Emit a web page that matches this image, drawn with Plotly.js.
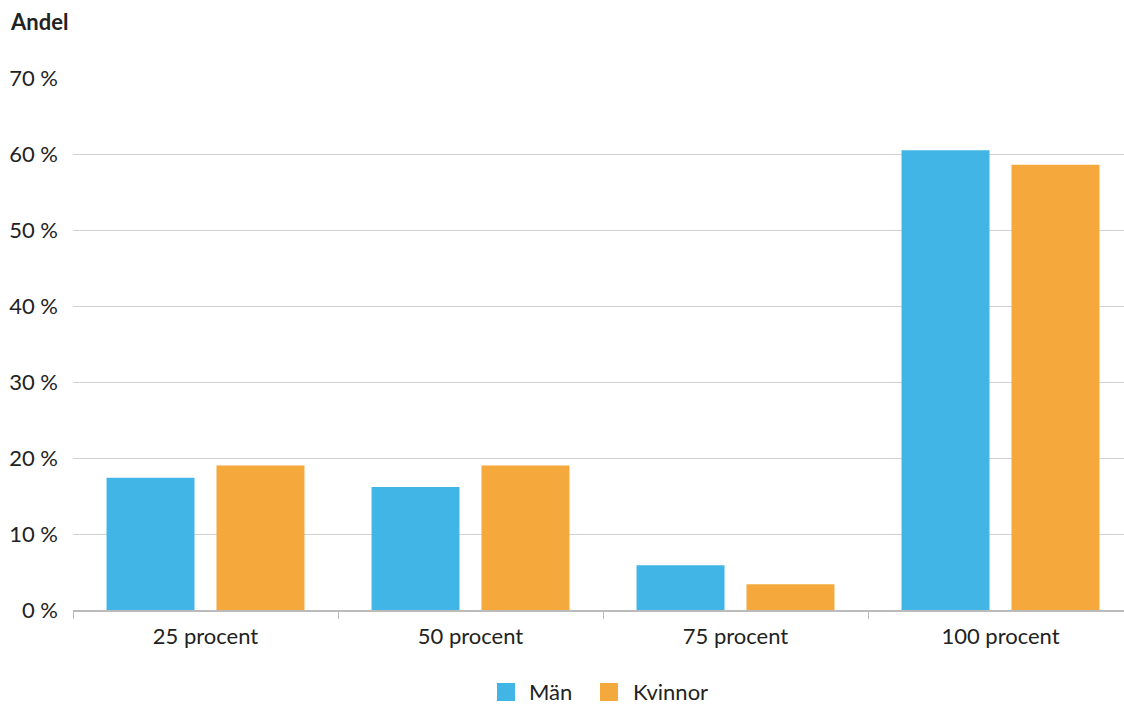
<!DOCTYPE html>
<html>
<head>
<meta charset="utf-8">
<script src="https://cdn.plot.ly/plotly-3.0.1.min.js"></script>
<style>html,body{margin:0;padding:0;background:#fff;overflow:hidden;}#chart{width:1133px;height:706px;}</style>
</head>
<body>
<div id="chart"></div>
<script>
const categories = ["25 procent", "50 procent", "75 procent", "100 procent"];
const seriesNames = ["Män", "Kvinnor"];
const man = [17.4, 16.2, 5.9, 60.5];
const kvinnor = [19.0, 19.0, 3.4, 58.6];
const seriesColors = ["#41B6E6", "#F5A83B"];
const yTicks = [0, 10, 20, 30, 40, 50, 60, 70];
const yTickLabels = yTicks.map(v => v + " %");

const fontFamily = "Lato, 'Open Sans', sans-serif";
const textColor = "#222";

const traces = [
  {type: "bar", name: seriesNames[0], x: categories, y: man, marker: {color: seriesColors[0]}},
  {type: "bar", name: seriesNames[1], x: categories, y: kvinnor, marker: {color: seriesColors[1]}}
];

// custom legend (larger squares than Plotly's default)
const W = 1133, H = 706, L = 73, R = 0, T = 78, B = 96;
const pw = W - L - R, ph = H - T - B;
const px = v => (v - L) / pw;
const py = v => (H - B - v) / ph;
const legendItems = [
  {sq: [497, 515], tx: 527},
  {sq: [600, 618], tx: 631}
];
const shapes = legendItems.map((it, i) => ({
  type: "rect", xref: "paper", yref: "paper",
  x0: px(it.sq[0]), x1: px(it.sq[1]), y0: py(683), y1: py(701),
  fillcolor: seriesColors[i], line: {width: 0}
}));
const legendAnn = legendItems.map((it, i) => ({
  text: seriesNames[i], xref: "paper", yref: "paper",
  x: px(it.tx), y: py(691), xanchor: "left", yanchor: "middle",
  showarrow: false, font: {family: fontFamily, size: 22, color: textColor}
}));

const layout = {
  width: W, height: H,
  margin: {l: L, r: R, t: T, b: B},
  paper_bgcolor: "#fff", plot_bgcolor: "#fff",
  font: {family: fontFamily, color: textColor, size: 22},
  barmode: "group",
  bargap: 0.17,
  bargroupgap: 0.2,
  showlegend: false,
  xaxis: {
    type: "category",
    showline: true, linecolor: "#bbb", linewidth: 1.5,
    ticks: "outside", tickson: "boundaries", ticklen: 7, tickcolor: "#bbb",
    tickfont: {size: 22, color: textColor},
    ticklabelstandoff: 6,
    showgrid: false, fixedrange: true
  },
  yaxis: {
    range: [0, 70],
    tickvals: yTicks, ticktext: yTickLabels,
    showgrid: true, gridcolor: "#d0d0d0", gridwidth: 1,
    zeroline: false, showline: false,
    tickfont: {size: 22, color: textColor},
    ticks: "", ticklabelstandoff: 14,
    fixedrange: true
  },
  shapes: shapes,
  annotations: [{
    text: "<b>Andel</b>", xref: "paper", yref: "paper",
    x: px(8), y: py(22), xanchor: "left", yanchor: "middle",
    showarrow: false, font: {family: fontFamily, size: 22, color: textColor}
  }].concat(legendAnn)
};

Plotly.newPlot("chart", traces, layout, {displayModeBar: false, staticPlot: true});
</script>
</body>
</html>
